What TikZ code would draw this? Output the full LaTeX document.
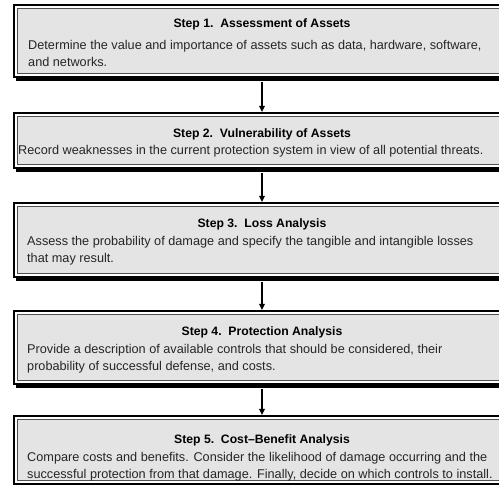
\documentclass[tikz,border=0pt]{standalone}
\usepackage{fontspec}
\setmainfont{Liberation Sans}
\usetikzlibrary{shadows,arrows.meta}
\definecolor{boxgray}{HTML}{E4E4E4}
\definecolor{innerline}{HTML}{505050}
\begin{document}
\begin{tikzpicture}[x=1pt,y=-1pt,
  stepframe/.style={rectangle, draw=black, line width=2pt, fill=white,
    minimum width=496pt, inner sep=0pt,
    path picture={\fill[boxgray, draw=innerline, line width=0.9pt]
        ([shift={(3.3pt,-3.3pt)}]path picture bounding box.north west) rectangle
        ([shift={(-3.3pt,3.3pt)}]path picture bounding box.south east);}},
  shadowed/.style={drop shadow={shadow xshift=2pt, shadow yshift=-4pt, opacity=1, fill=black}},
  titletext/.style={font=\fontsize{12.2}{14}\selectfont\bfseries, anchor=center, inner sep=0pt},
  bodytext/.style={font=\fontsize{12.7}{17}\selectfont, anchor=north west, align=left, inner sep=0pt, text=black!85},
  flow/.style={line width=1.6pt, -{Triangle[length=6pt,width=5.5pt]}}
]
\useasboundingbox (0,0) rectangle (499,492);
\begin{scope}
\clip (0,0) rectangle (499,492);
\node[stepframe, shadowed, minimum height=72pt] (b1) at (262,41) {};
\node[stepframe, shadowed, minimum height=55pt] (b2) at (262,140.5) {};
\node[stepframe, shadowed, minimum height=74pt] (b3) at (262,240) {};
\node[stepframe, shadowed, minimum height=73pt] (b4) at (262,347.5) {};
\node[stepframe, minimum height=68pt] (b5) at (262,450) {};
\end{scope}

\node[titletext] (t1) at (262,24) {Step 1.\ \ Assessment of Assets};
\node[bodytext] (d1) at (28,40) {Determine the value and importance of assets such as data, hardware, software,\\and networks.};

\node[titletext] (t2) at (262,134) {Step 2.\ \ Vulnerability of Assets};
\node[bodytext] (d2) at (18,145) {Record weaknesses in the current protection system in view of all potential threats.};

\node[titletext] (t3) at (262,224) {Step 3.\ \ Loss Analysis};
\node[bodytext] (d3) at (27,236) {Assess the probability of damage and specify the tangible and intangible losses\\that may result.};

\node[titletext] (t4) at (262,332) {Step 4.\ \ Protection Analysis};
\node[bodytext] (d4) at (27,344) {Provide a description of available controls that should be considered, their\\probability of successful defense, and costs.};

\node[titletext] (t5) at (262,440) {Step 5.\ \ Cost--Benefit Analysis};
\node[bodytext] (d5) at (27,452) {Compare costs and benefits. Consider the likelihood of damage occurring and the\\successful protection from that damage. Finally, decide on which controls to install.};

\draw[flow] ([yshift=-4pt]b1.south) -- (b2.north);
\draw[flow] ([yshift=-4pt]b2.south) -- (b3.north);
\draw[flow] ([yshift=-4pt]b3.south) -- (b4.north);
\draw[flow] ([yshift=-4pt]b4.south) -- (b5.north);
\end{tikzpicture}
\end{document}
